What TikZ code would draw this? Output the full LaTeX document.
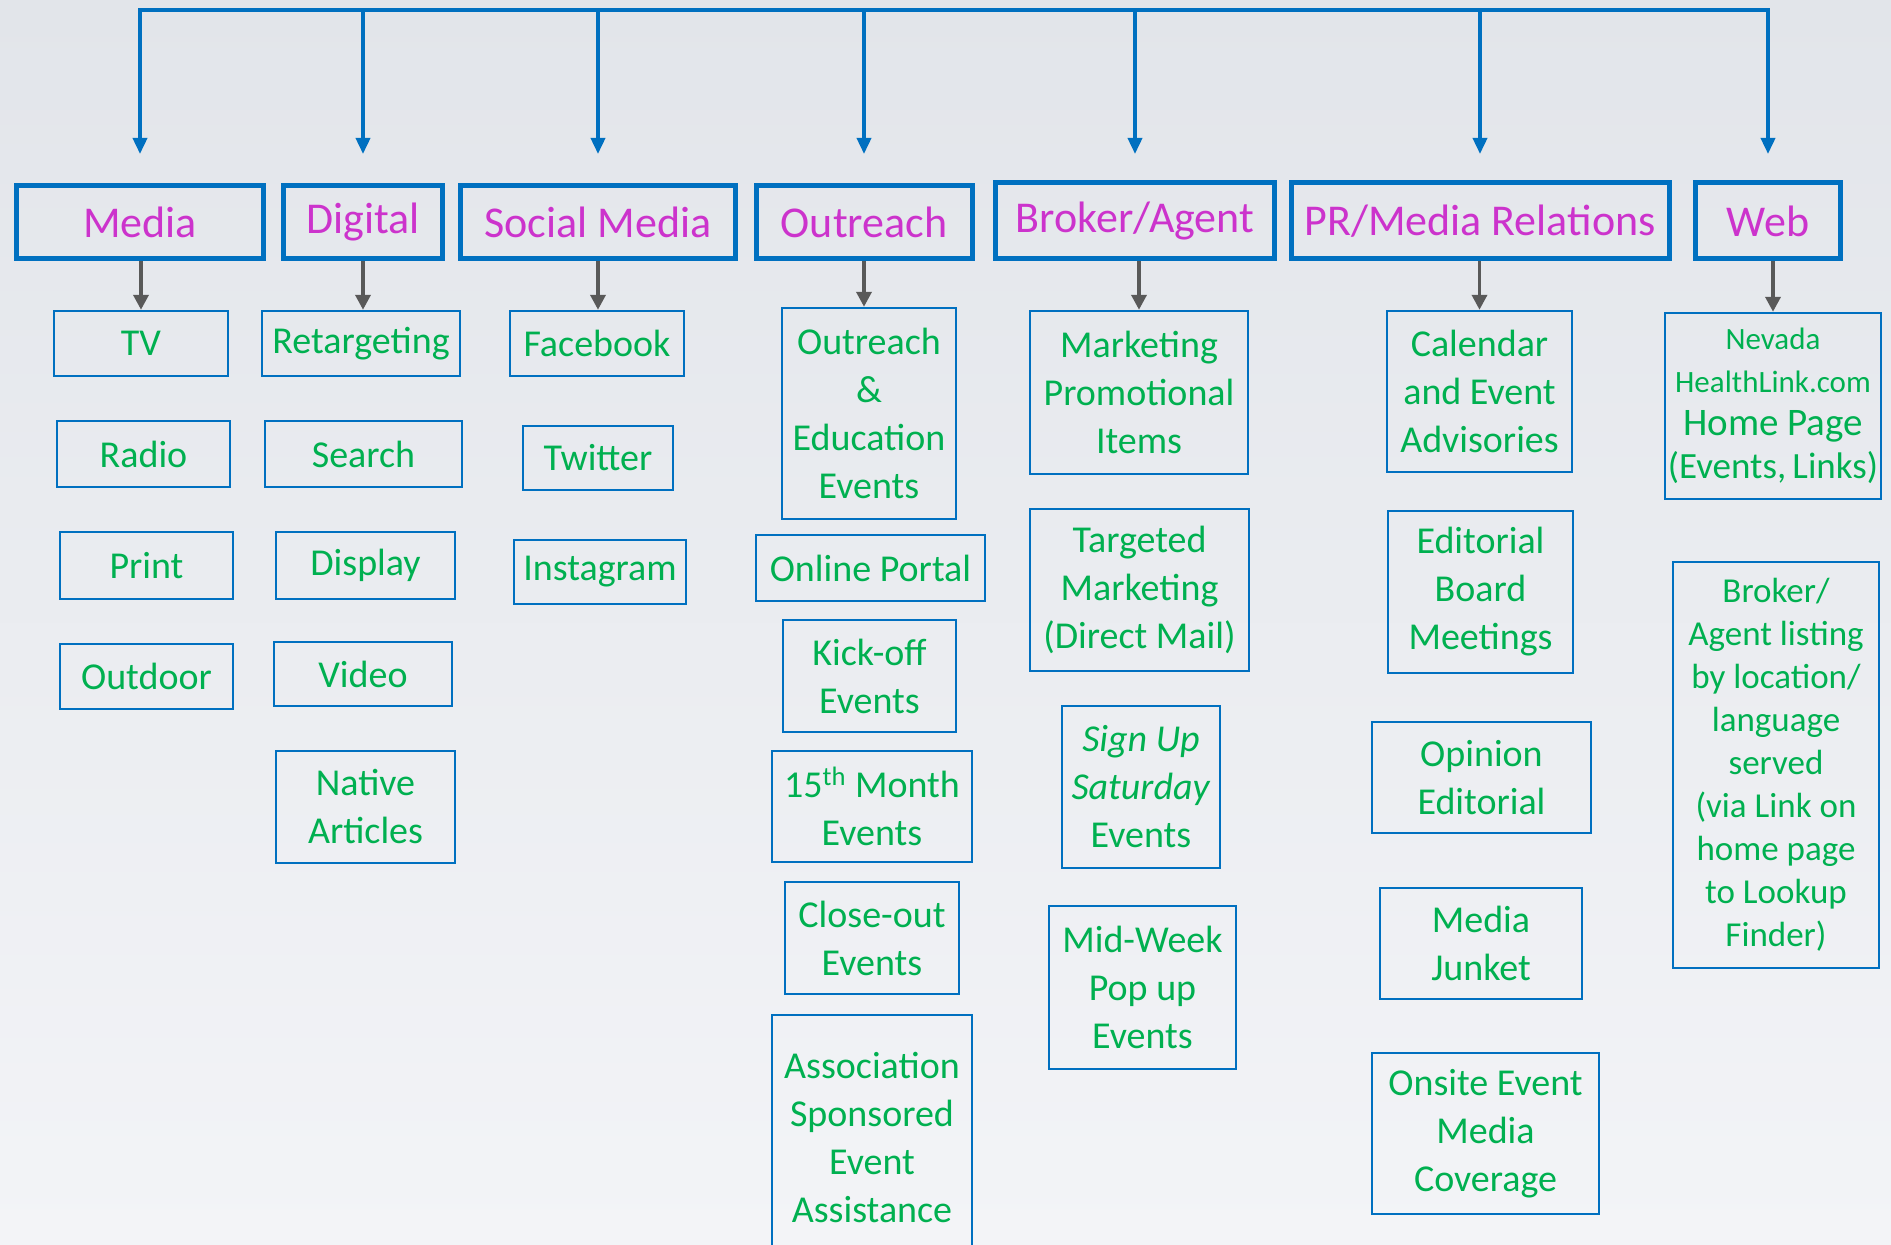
\documentclass[tikz,border=0pt]{standalone}
\usepackage{fontspec}
\setmainfont{Carlito}
\usetikzlibrary{arrows.meta}
\definecolor{barblue}{RGB}{0,112,192}
\definecolor{headpink}{RGB}{204,51,204}
\definecolor{itemgreen}{RGB}{0,176,80}
\definecolor{arrowgray}{RGB}{89,89,89}
\definecolor{bgtop}{RGB}{226,229,234}
\definecolor{bgbottom}{RGB}{243,244,247}
\newcommand{\smallurl}{\fontsize{15.5}{20}\selectfont}
\newcommand{\linkline}{\fontsize{18.5}{21}\selectfont}
\tikzset{
  wh/.style 2 args={minimum width=#1*0.5pt, minimum height=#2*0.5pt},
  head-box/.style={
    draw=barblue, line width=2.5pt, inner sep=0pt,
    text=headpink, font=\fontsize{22}{27}\selectfont
  },
  item-box/.style={
    draw=barblue, line width=1.2pt, inner sep=0pt, align=center,
    text=itemgreen, font=\fontsize{19}{24}\selectfont
  },
  bus-arrow/.style={
    draw=barblue, line width=1.8pt,
    -{Triangle[length=8pt,width=7pt]}
  },
  item-arrow/.style={
    draw=arrowgray, line width=1.8pt,
    -{Triangle[length=7.5pt,width=7.5pt]}
  }
}

\begin{document}
\begin{tikzpicture}[x=0.5pt, y=-0.5pt]
  \useasboundingbox (0,0) rectangle (1891,1245);
  \shade[top color=bgtop, bottom color=bgbottom] (0,0) rectangle (1891,1245);

  \coordinate (bus) at (0,10);
  \coordinate (tip) at (0,154);

  % Top row
  \node[head-box, wh={247}{73}] (hd-media)    at (140,222.5)  {Media};
  \node[head-box, wh={159}{73}] (hd-digital)  at (363,222.5)  {Digital};
  \node[head-box, wh={275}{73}] (hd-social)   at (598,222.5)  {Social Media};
  \node[head-box, wh={216}{73}] (hd-outreach) at (864,222.5)  {Outreach};
  \node[head-box, wh={279}{76}] (hd-broker)   at (1135,221)   {Broker/Agent};
  \node[head-box, wh={378}{76}] (hd-pr)       at (1480,221)   {PR/Media Relations};
  \node[head-box, wh={145}{76}] (hd-web)      at (1768,221)   {Web};

  % Bus with arrows
  \draw[bus-arrow, line join=miter, {Triangle[length=8pt,width=7pt]}-{Triangle[length=8pt,width=7pt]}]
    (hd-media.north |- tip) -- (hd-media.north |- bus)
    -- (hd-web.north |- bus) -- (hd-web.north |- tip);
  \foreach \n in {digital,social,outreach,broker,pr}
    \draw[bus-arrow] (hd-\n.north |- bus) -- (hd-\n.north |- tip);

  % Media
  \node[item-box, wh={174}{65}] (it-tv)      at (141,343.5)   {TV};
  \node[item-box, wh={173}{66}] (it-radio)   at (143.5,454)   {Radio};
  \node[item-box, wh={173}{67}] (it-print)   at (146.5,565.5) {Print};
  \node[item-box, wh={173}{65}] (it-outdoor) at (146.5,676.5) {Outdoor};

  % Digital
  \node[item-box, wh={198}{65}]  (it-retarget) at (361,343.5)   {Retargeting};
  \node[item-box, wh={197}{66}]  (it-search)   at (363.5,454)   {Search};
  \node[item-box, wh={179}{67}]  (it-display)  at (365.5,565.5) {Display};
  \node[item-box, wh={178}{64}]  (it-video)    at (363,674)     {Video};
  \node[item-box, wh={179}{112}] (it-native)   at (365.5,807)   {Native\\Articles};

  % Social Media
  \node[item-box, wh={174}{65}] (it-facebook)  at (597,343.5) {Facebook};
  \node[item-box, wh={150}{64}] (it-twitter)   at (598,458)   {Twitter};
  \node[item-box, wh={172}{64}] (it-instagram) at (600,572)   {Instagram};

  % Outreach
  \node[item-box, wh={174}{211}] (it-education) at (869,413.5)  {Outreach\\\&\\Education\\Events};
  \node[item-box, wh={229}{66}]  (it-portal)    at (870.5,568)  {Online Portal};
  \node[item-box, wh={173}{112}] (it-kickoff)   at (869.5,676)  {Kick-off\\Events};
  \node[item-box, wh={200}{111}] (it-month)     at (872,806.5)  {15\textsuperscript{th} Month\\Events};
  \node[item-box, wh={174}{112}] (it-closeout)  at (872,938)    {Close-out\\Events};
  \node[item-box, wh={200}{245}] (it-assoc)     at (872,1137.5) {Association\\Sponsored\\Event\\Assistance};

  % Broker/Agent
  \node[item-box, wh={218}{163}] (it-promo)    at (1139,392.5)  {Marketing\\Promotional\\Items};
  \node[item-box, wh={219}{162}] (it-mail)     at (1139.5,590)  {Targeted\\Marketing\\(Direct Mail)};
  \node[item-box, wh={158}{162}] (it-saturday) at (1141,787)    {\textit{Sign Up}\\\textit{Saturday}\\Events};
  \node[item-box, wh={187}{163}] (it-popup)    at (1142.5,987.5) {Mid-Week\\Pop up\\Events};

  % PR/Media Relations
  \node[item-box, wh={185}{161}] (it-calendar) at (1479.5,391.5) {Calendar\\and Event\\Advisories};
  \node[item-box, wh={185}{162}] (it-board)    at (1480.5,592)   {Editorial\\Board\\Meetings};
  \node[item-box, wh={219}{111}] (it-opinion)  at (1481.5,777.5) {Opinion\\Editorial};
  \node[item-box, wh={202}{111}] (it-junket)   at (1481,943.5)   {Media\\Junket};
  \node[item-box, wh={227}{161}] (it-onsite)   at (1485.5,1133.5) {Onsite Event\\Media\\Coverage};

  % Web
  \node[item-box, wh={216}{186}, font=\fontsize{19.5}{21.5}\selectfont] (it-home) at (1773,406) {\smallurl Nevada\\\smallurl HealthLink.com\\Home Page\\\linkline (Events,\,Links)};
  \node[item-box, wh={206}{406}, font=\fontsize{17.5}{21.5}\selectfont] (it-listing) at (1776,765) {Broker/\\Agent listing\\by location/\\language\\served\\(via Link on\\home page\\to Lookup\\Finder)};

  % Down arrows
  \draw[item-arrow] (it-tv.north |- hd-media.south) -- (it-tv.north);
  \draw[item-arrow] (hd-digital.south) -- (hd-digital.south |- it-retarget.north);
  \draw[item-arrow] (hd-social.south) -- (hd-social.south |- it-facebook.north);
  \draw[item-arrow] (hd-outreach.south) -- (hd-outreach.south |- it-education.north);
  \draw[item-arrow] (it-promo.north |- hd-broker.south) -- (it-promo.north);
  \draw[item-arrow] (it-calendar.north |- hd-pr.south) -- (it-calendar.north);
  \draw[item-arrow] (it-home.north |- hd-web.south) -- (it-home.north);

\end{tikzpicture}
\end{document}
